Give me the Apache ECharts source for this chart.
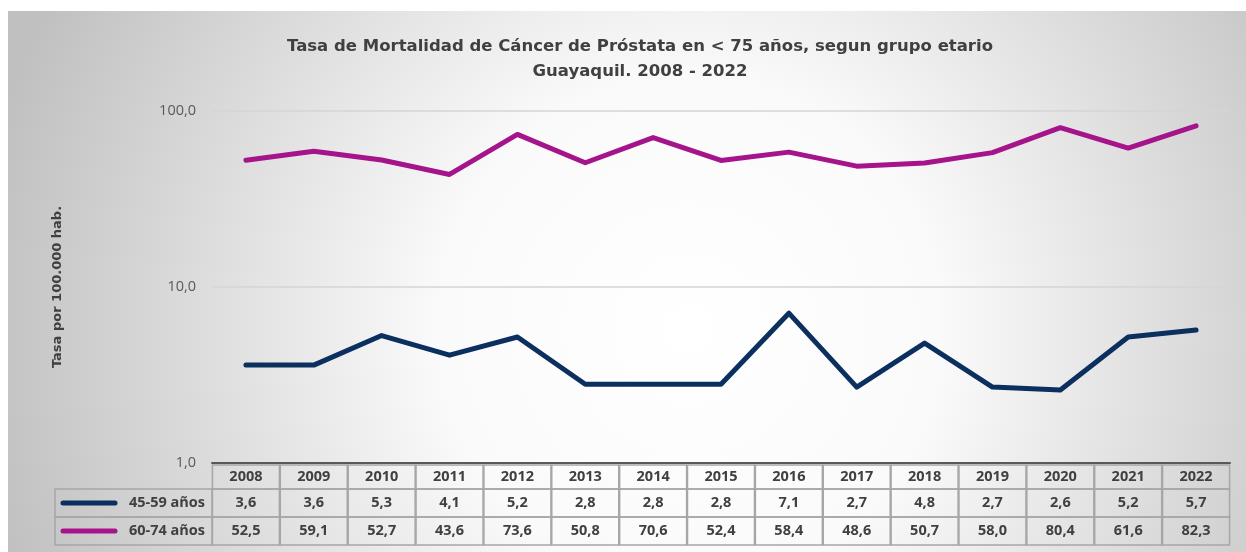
<!DOCTYPE html>
<html><head><meta charset="utf-8">
<script src="https://cdn.jsdelivr.net/npm/echarts@6/dist/echarts.min.js"></script>
<style>html,body{margin:0;padding:0;background:#fff}#c{width:1246px;height:552px}</style>
</head><body><div id="c"></div>
<script>
const years = ['2008','2009','2010','2011','2012','2013','2014','2015','2016','2017','2018','2019','2020','2021','2022'];
const grp45 = [3.6,3.6,5.3,4.1,5.2,2.8,2.8,2.8,7.1,2.7,4.8,2.7,2.6,5.2,5.7];
const grp60 = [52.5,59.1,52.7,43.6,73.6,50.8,70.6,52.4,58.4,48.6,50.7,58.0,80.4,61.6,82.3];
const seriesNames = ['45-59 años','60-74 años'];
const seriesColors = ['#0b2f5e','#a5148a'];
const yMin = 1, yMax = 100;

const fmt = v => v.toFixed(1).replace('.', ',');
const FONT = '"Open Sans", "DejaVu Sans", sans-serif';
const TFONT = '"DejaVu Sans", sans-serif';
const TXT = '#404040';
const gridL = 212, gridR = 16, gridT = 111, gridH = 352;
const lblMargin = 2, hdrH = 24, rowH = 28;
const rowTop1 = gridT + gridH + lblMargin + hdrH;
const rowTop2 = rowTop1 + rowH;
const legL = 55;

const chart = echarts.init(document.getElementById('c'));
const cellStyle = (h) => ({
  width: 67, height: h, lineHeight: h, align: 'center',
  fontFamily: FONT, fontWeight: 'bold', fontSize: 14.5, color: TXT,
  borderColor: '#a6a6a6', borderWidth: 1.5
});

function legendRow(top, name, color) {
  return [
    { type: 'rect', shape: { x: legL, y: top, width: gridL - legL, height: rowH },
      style: { fill: 'transparent', stroke: '#a6a6a6', lineWidth: 1.5 }, z: 5 },
    { type: 'line', shape: { x1: legL + 8, y1: top + rowH / 2, x2: legL + 60, y2: top + rowH / 2 },
      style: { stroke: color, lineWidth: 5, lineCap: 'round' }, z: 6 },
    { type: 'text', x: gridL - 7, y: top + rowH / 2,
      style: { text: name, fill: TXT, font: 'bold 14.5px ' + FONT, textAlign: 'right', textVerticalAlign: 'middle' }, z: 6 }
  ];
}

chart.setOption({
  backgroundColor: '#ffffff',
  animation: false,
  title: {
    text: 'Tasa de Mortalidad de Cáncer de Próstata en < 75 años, segun grupo etario\nGuayaquil. 2008 - 2022',
    left: 635, top: 29, textAlign: 'center',
    textStyle: { fontFamily: TFONT, fontWeight: 'bold', fontSize: 16.5, color: TXT, lineHeight: 25 }
  },
  graphic: [
    { type: 'rect', shape: { x: 8, y: 11, width: 1238, height: 541 }, z: -10, silent: true,
      style: { fill: { type: 'radial', x: 690, y: 330, r: 720, global: true,
        colorStops: [{ offset: 0, color: '#ffffff' }, { offset: 0.35, color: '#fafafa' }, { offset: 1, color: '#c0c0c0' }] } } },
    ...legendRow(rowTop1, seriesNames[0], seriesColors[0]),
    ...legendRow(rowTop2, seriesNames[1], seriesColors[1])
  ],
  grid: { left: gridL, right: gridR, top: gridT, height: gridH },
  xAxis: {
    type: 'category', data: years, boundaryGap: true,
    axisTick: { show: false },
    axisLine: { lineStyle: { color: '#595959', width: 2 } },
    axisLabel: {
      interval: 0, margin: lblMargin,
      formatter: (v, i) => `{h|${v}}\n{a|${fmt(grp45[i])}}\n{a|${fmt(grp60[i])}}`,
      rich: { h: cellStyle(hdrH), a: cellStyle(rowH) }
    }
  },
  yAxis: {
    type: 'log', logBase: 10, min: yMin, max: yMax,
    name: 'Tasa por 100.000 hab.', nameLocation: 'middle', nameGap: 148,
    nameTextStyle: { fontFamily: TFONT, fontWeight: 'bold', fontSize: 13, color: TXT },
    axisLine: { show: false }, axisTick: { show: false },
    axisLabel: { formatter: v => fmt(v), fontFamily: FONT, fontSize: 14.5, color: '#595959', margin: 16 },
    splitLine: { lineStyle: { color: '#d4d4d4', width: 1.5 } },
    minorTick: { show: false }
  },
  series: [
    { name: seriesNames[0], type: 'line', data: grp45, symbol: 'none',
      lineStyle: { color: seriesColors[0], width: 5, cap: 'round', join: 'round' } },
    { name: seriesNames[1], type: 'line', data: grp60, symbol: 'none',
      lineStyle: { color: seriesColors[1], width: 5, cap: 'round', join: 'round' } }
  ]
});
</script></body></html>
